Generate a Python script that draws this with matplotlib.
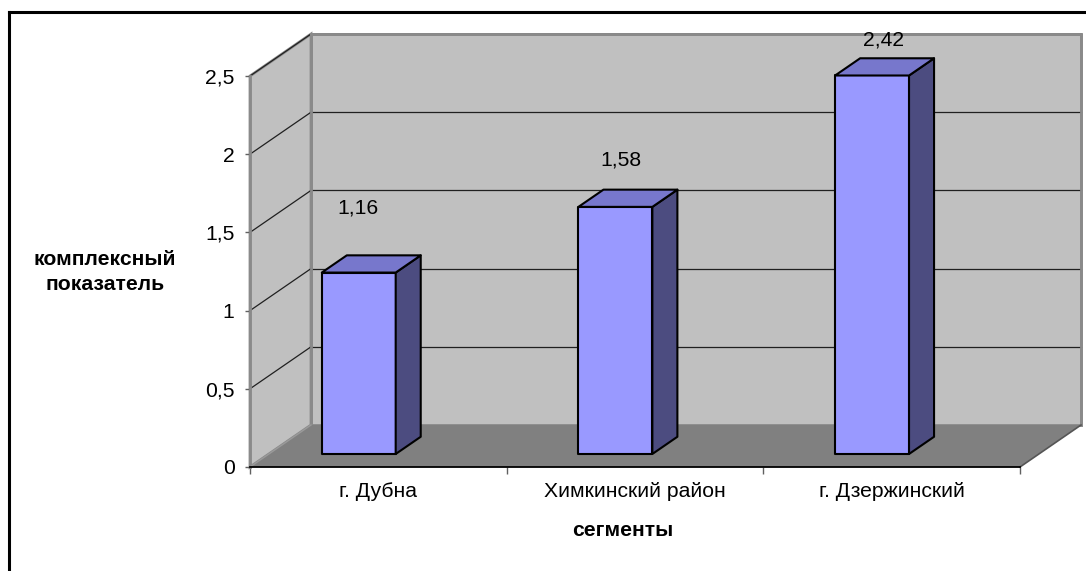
import matplotlib
matplotlib.use("Agg")
import matplotlib.pyplot as plt
from matplotlib.patches import Polygon
from matplotlib.lines import Line2D

# ---- data ----
categories = ["г. Дубна", "Химкинский район", "г. Дзержинский"]
values = [1.16, 1.58, 2.42]
y_ticks = [0, 0.5, 1, 1.5, 2, 2.5]
y_title = "комплексный\nпоказатель"
x_title = "сегменты"

plt.rcParams["font.family"] = ["Liberation Sans", "DejaVu Sans"]
FS = 15.2

W, H = 1086, 571
fig = plt.figure(figsize=(W / 100, H / 100), dpi=100)
fig.patch.set_facecolor("white")

# front plane of the 3-D box
ax = fig.add_axes([250 / W, 104 / H, 770 / W, 391 / H])
ax.set_xlim(0, len(categories))
ax.set_ylim(0, y_ticks[-1])
ax.set_facecolor("none")
for s in ax.spines.values():
    s.set_visible(False)

# oblique depth of the box (data units)
dx, dy = 0.2377, 0.2685
ymax = y_ticks[-1]
n = len(categories)

wall_c = "#C0C0C0"
floor_c = "#808080"
edge_c = "#8A8A8A"

# back wall
ax.add_patch(Polygon([(dx, dy), (n + dx, dy), (n + dx, ymax + dy), (dx, ymax + dy)],
                     closed=True, facecolor=wall_c, edgecolor=edge_c, lw=2,
                     zorder=1, clip_on=False))
# side wall
ax.add_patch(Polygon([(0, 0), (dx, dy), (dx, ymax + dy), (0, ymax)],
                     closed=True, facecolor=wall_c, edgecolor=edge_c, lw=2,
                     zorder=1, clip_on=False))
# gridlines on both walls
for t in y_ticks[1:]:
    ax.plot([dx, n + dx], [t + dy, t + dy], color="#202020", lw=0.9,
            zorder=2, clip_on=False)
    ax.plot([0, dx], [t, t + dy], color="#202020", lw=0.9,
            zorder=2, clip_on=False)
# wall edges on top of gridlines
ax.plot([dx, n + dx, n + dx], [ymax + dy, ymax + dy, dy], color=edge_c, lw=2,
        zorder=2.5, clip_on=False)
ax.plot([dx, dx], [dy, ymax + dy], color=edge_c, lw=2, zorder=2.5, clip_on=False)
ax.plot([0, 0], [0, ymax], color=edge_c, lw=2, zorder=2.5, clip_on=False)

# floor
ax.add_patch(Polygon([(0, 0), (n, 0), (n + dx, dy), (dx, dy)],
                     closed=True, facecolor=floor_c, edgecolor="none",
                     zorder=3, clip_on=False))
ax.plot([n, n + dx], [0, dy], color="#555555", lw=1.2, zorder=3.5, clip_on=False)
ax.plot([0, dx], [0, dy], color="#9A9A9A", lw=1, zorder=3.5, clip_on=False)
ax.plot([0, n], [0, 0], color="black", lw=1.3, zorder=3.6, clip_on=False)

# bars: boxes placed in the middle of the depth
bar_off, bar_w = 0.206, 0.288
d0, d1 = 0.31, 0.72
front_c, top_c, side_c = "#9999FF", "#7777CC", "#4C4C80"
label_nudge = [(-1, 65), (6, 47), (11, 35)]   # pixel offsets of the value labels
for i, v in enumerate(values):
    x0 = i + bar_off + d0 * dx
    x1 = x0 + bar_w
    yb = d0 * dy
    yt = yb + v
    ddx = (d1 - d0) * dx
    ddy = (d1 - d0) * dy
    kw = dict(closed=True, edgecolor="black", lw=1.5, zorder=5,
              joinstyle="round", clip_on=False)
    ax.add_patch(Polygon([(x0, yb), (x1, yb), (x1, yt), (x0, yt)],
                         facecolor=front_c, **kw))
    ax.add_patch(Polygon([(x1, yb), (x1 + ddx, yb + ddy), (x1 + ddx, yt + ddy), (x1, yt)],
                         facecolor=side_c, **kw))
    ax.add_patch(Polygon([(x0, yt), (x1, yt), (x1 + ddx, yt + ddy), (x0 + ddx, yt + ddy)],
                         facecolor=top_c, **kw))
    nx, ny = label_nudge[i]
    ax.annotate(f"{v:.2f}".replace(".", ","), xy=((x0 + x1) / 2, yt),
                xytext=(nx, ny), textcoords="offset pixels",
                ha="center", va="center", fontsize=FS, color="black",
                zorder=6, annotation_clip=False)

# value axis
ax.set_yticks(y_ticks)
ax.set_yticklabels([f"{t:g}".replace(".", ",") for t in y_ticks])
ax.tick_params(axis="y", direction="out", length=3.6, width=1, color="#606060",
               pad=7.5, labelsize=FS)

# category axis
ax.set_xticks(range(n + 1))
ax.set_xticklabels([])
ax.set_xticks([i + 0.5 for i in range(n)], minor=True)
ax.set_xticklabels(categories, minor=True)
ax.tick_params(axis="x", which="major", direction="out", length=5, width=1,
               color="#606060")
ax.tick_params(axis="x", which="minor", length=0, pad=10.5, labelsize=FS)

# axis titles
fig.text(105 / W, 1 - 272 / H, y_title, ha="center", va="center",
         fontsize=FS, fontweight="bold", linespacing=1.45)
fig.text(623 / W, 1 - 530 / H, x_title, ha="center", va="center",
         fontsize=FS, fontweight="bold")

# chart-area border
fig.add_artist(Line2D([9 / W, 9 / W], [0, 1 - 12 / H], color="black", lw=2.2,
                      transform=fig.transFigure))
fig.add_artist(Line2D([9 / W, 1], [1 - 12 / H, 1 - 12 / H], color="black", lw=2.2,
                      transform=fig.transFigure))

fig.savefig("out.png", dpi=100)
